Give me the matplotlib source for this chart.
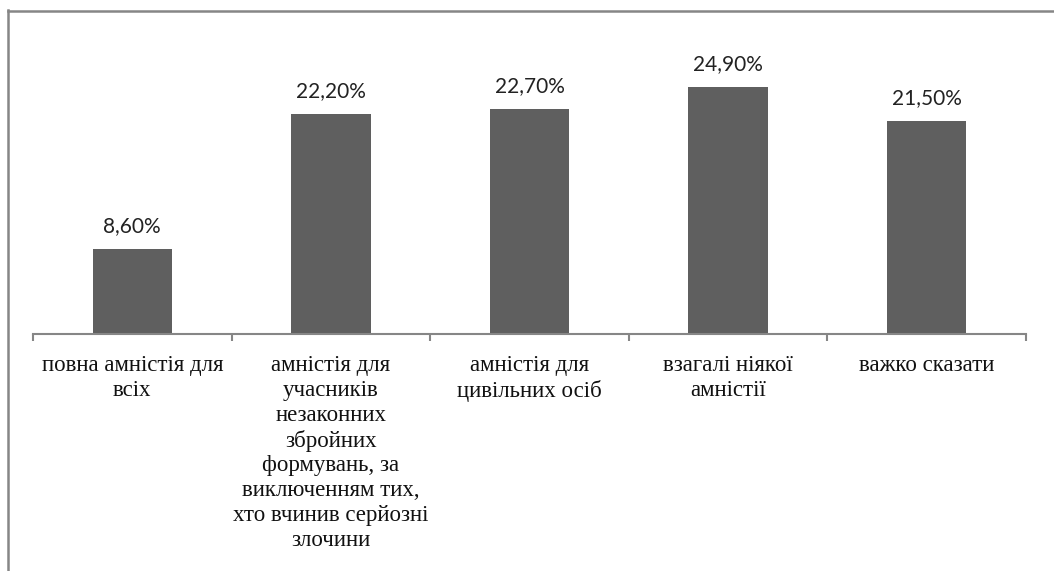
import matplotlib
matplotlib.use("Agg")
import matplotlib.pyplot as plt
from matplotlib.lines import Line2D

categories = [
    "повна амністія для\nвсіх",
    "амністія для\nучасників\nнезаконних\nзбройних\nформувань, за\nвиключенням тих,\nхто вчинив серйозні\nзлочини",
    "амністія для\nцивільних осіб",
    "взагалі ніякої\nамністії",
    "важко сказати",
]
values = [8.6, 22.2, 22.7, 24.9, 21.5]
value_labels = ["8,60%", "22,20%", "22,70%", "24,90%", "21,50%"]

W, H = 1054, 571
fig = plt.figure(figsize=(W / 100, H / 100), dpi=100)
ax = fig.add_axes([33 / W, 1 - 334 / H, (1026 - 33) / W, (334 - 36.4) / H])

x = list(range(len(values)))
ax.bar(x, values, width=0.4, color="#5f5f5f")
ax.set_xlim(-0.5, len(values) - 0.5)
ax.set_ylim(0, 30)

for xi, v, lab in zip(x, values, value_labels):
    ax.annotate(lab, (xi, v), xytext=(0, 9), textcoords="offset points",
                ha="center", va="bottom", fontsize=15, family="Lato", color="#222222")

for xi, cat in zip(x, categories):
    ax.annotate(cat, (xi, 0), xytext=(0, -15), textcoords="offset points",
                ha="center", va="top", fontsize=16.5, family="Liberation Serif",
                linespacing=1.24, color="#111111")

for s in ["top", "left", "right"]:
    ax.spines[s].set_visible(False)
ax.spines["bottom"].set_color("#868686")
ax.spines["bottom"].set_linewidth(1.5)
ax.set_yticks([])
ax.set_xticks([])
ax.set_xticks([i - 0.5 for i in range(len(values) + 1)], minor=True)
ax.tick_params(axis="x", which="minor", length=5, width=1.5, color="#868686",
               labelbottom=False)

# chart frame (left and top edges visible)
fig.add_artist(Line2D([7.5 / W, 7.5 / W], [0, 1 - 10 / H], color="#868686", lw=1.8))
fig.add_artist(Line2D([7.5 / W, 1], [1 - 10.5 / H, 1 - 10.5 / H], color="#868686", lw=1.8))

fig.savefig("out.png", dpi=100)
